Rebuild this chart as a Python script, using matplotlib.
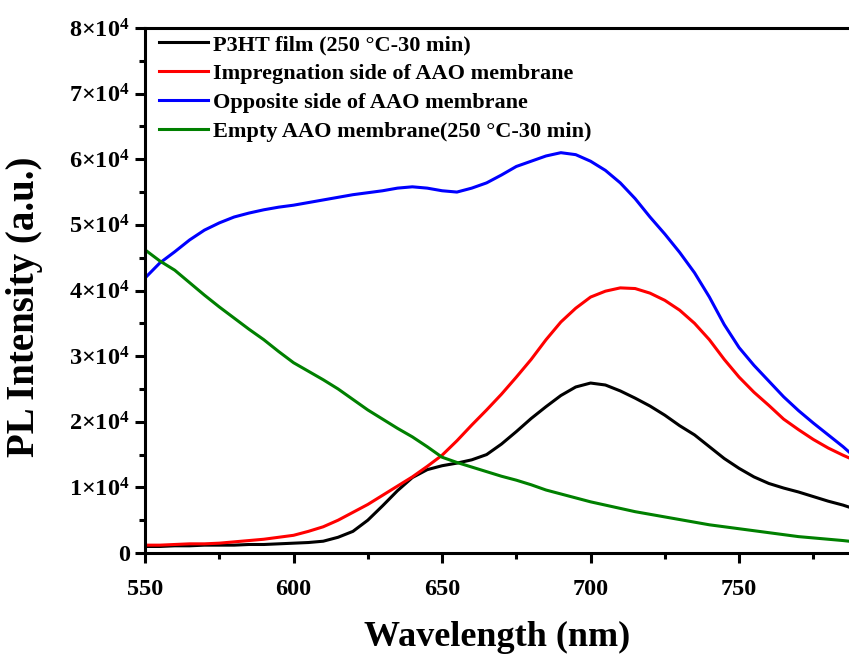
import matplotlib
matplotlib.use('Agg')
import matplotlib.pyplot as plt
from matplotlib.ticker import MultipleLocator, FuncFormatter

# wavelength grid (nm)
wavelength = list(range(550, 790, 5)) + [787]

# PL intensities in units of 1e4 counts
p3ht_film = [0.10, 0.10, 0.11, 0.11, 0.12, 0.12, 0.12, 0.13, 0.13, 0.14,
             0.15, 0.16, 0.18, 0.24, 0.33, 0.50, 0.72, 0.95, 1.15, 1.27,
             1.33, 1.37, 1.42, 1.50, 1.66, 1.85, 2.05, 2.23, 2.40, 2.53,
             2.59, 2.56, 2.47, 2.36, 2.24, 2.10, 1.94, 1.80, 1.62, 1.44,
             1.29, 1.16, 1.06, 0.99, 0.93, 0.86, 0.79, 0.73, 0.70]

impregnation = [0.12, 0.12, 0.13, 0.14, 0.14, 0.15, 0.17, 0.19, 0.21, 0.24,
                0.27, 0.33, 0.40, 0.50, 0.62, 0.74, 0.88, 1.02, 1.16, 1.32,
                1.49, 1.71, 1.95, 2.18, 2.42, 2.68, 2.95, 3.25, 3.52, 3.73,
                3.90, 3.99, 4.04, 4.03, 3.96, 3.85, 3.70, 3.50, 3.25, 2.95,
                2.68, 2.45, 2.25, 2.04, 1.88, 1.73, 1.60, 1.49, 1.45]

opposite = [4.19, 4.42, 4.59, 4.77, 4.92, 5.03, 5.12, 5.18, 5.23, 5.27,
            5.30, 5.34, 5.38, 5.42, 5.46, 5.49, 5.52, 5.56, 5.58, 5.56,
            5.52, 5.50, 5.56, 5.64, 5.76, 5.89, 5.97, 6.05, 6.10, 6.07,
            5.97, 5.83, 5.64, 5.40, 5.12, 4.86, 4.58, 4.27, 3.90, 3.48,
            3.13, 2.86, 2.62, 2.38, 2.17, 1.98, 1.80, 1.62, 1.54]

empty_aao = [4.62, 4.45, 4.31, 4.12, 3.93, 3.75, 3.58, 3.41, 3.25, 3.07,
             2.90, 2.77, 2.64, 2.50, 2.34, 2.18, 2.04, 1.90, 1.77, 1.62,
             1.46, 1.38, 1.31, 1.24, 1.17, 1.11, 1.04, 0.96, 0.90, 0.84,
             0.78, 0.73, 0.68, 0.63, 0.59, 0.55, 0.51, 0.47, 0.43, 0.40,
             0.37, 0.34, 0.31, 0.28, 0.25, 0.23, 0.21, 0.19, 0.18]

series = [
    (p3ht_film, 'black', 'P3HT film (250 °C-30 min)'),
    (impregnation, 'red', 'Impregnation side of AAO membrane'),
    (opposite, 'blue', 'Opposite side of AAO membrane'),
    (empty_aao, 'green', 'Empty AAO membrane(250 °C-30 min)'),
]

plt.rcParams['font.family'] = ['Liberation Serif', 'DejaVu Serif']
plt.rcParams['font.weight'] = 'bold'
plt.rcParams['mathtext.fontset'] = 'custom'
plt.rcParams['mathtext.rm'] = 'Liberation Serif:bold'
plt.rcParams['mathtext.default'] = 'regular'

fig = plt.figure(figsize=(8.49, 6.54), dpi=100)
ax = fig.add_axes([0.1708, 0.1544, 0.8292, 0.8028])

for values, color, label in series:
    ax.plot(wavelength, [v * 1e4 for v in values], color=color, lw=2.2, label=label)

ax.set_xlim(550, 787)
ax.set_ylim(0, 80000)

ax.xaxis.set_major_locator(MultipleLocator(50))
ax.xaxis.set_minor_locator(MultipleLocator(25))
ax.yaxis.set_major_locator(MultipleLocator(10000))
ax.yaxis.set_minor_locator(MultipleLocator(5000))


def sci_label(v, pos):
    if v == 0:
        return '0'
    return '%d×10$^{4}$' % round(v / 1e4)


ax.yaxis.set_major_formatter(FuncFormatter(sci_label))

for side in ('left', 'bottom', 'top'):
    ax.spines[side].set_linewidth(2.2)
ax.spines['right'].set_visible(False)

ax.tick_params(which='major', direction='out', length=7, width=2.2, pad=5)
ax.tick_params(which='minor', direction='out', length=4, width=2.2)
ax.tick_params(axis='x', which='major', labelsize=17.5, pad=12)
ax.tick_params(axis='y', which='major', labelsize=17.5, pad=4)

ax.set_xlabel('Wavelength (nm)', fontsize=26, fontweight='bold', va='top')
ax.set_ylabel('PL Intensity (a.u.)', fontsize=28, fontweight='bold')
ax.xaxis.set_label_coords(0.5, -0.13)
ax.yaxis.set_label_coords(-0.145, 0.47)

ax.legend(loc='upper left', bbox_to_anchor=(0.011, 1.0), frameon=False,
          fontsize=16, handlelength=2.2, handletextpad=0.2, labelspacing=0.38,
          borderaxespad=0.2, borderpad=0.1)

fig.savefig('out.png', dpi=100)
